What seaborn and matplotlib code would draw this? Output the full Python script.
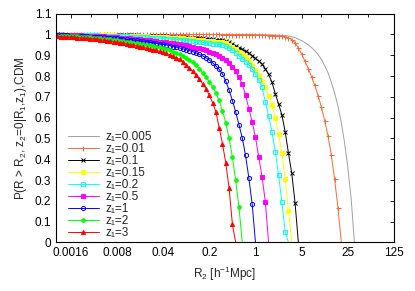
import numpy as np
import pandas as pd
import seaborn as sns
import matplotlib
matplotlib.use("Agg")
import matplotlib.pyplot as plt
from matplotlib.ticker import FixedLocator, FormatStrFormatter

# R2 grid [h^-1 Mpc], shared by all curves (0.05 dex steps)
r2 = [
    0.00100, 0.00112, 0.00126, 0.00141, 0.00158, 0.00178, 0.00200, 0.00224, 0.00251, 0.00282,
    0.00316, 0.00355, 0.00398, 0.00447, 0.00501, 0.00562, 0.00631, 0.00708, 0.00794, 0.00891,
    0.0100, 0.0112, 0.0126, 0.0141, 0.0158, 0.0178, 0.0200, 0.0224, 0.0251, 0.0282,
    0.0316, 0.0355, 0.0398, 0.0447, 0.0501, 0.0562, 0.0631, 0.0708, 0.0794, 0.0891,
    0.100, 0.112, 0.126, 0.141, 0.158, 0.178, 0.200, 0.224, 0.251, 0.282,
    0.316, 0.355, 0.398, 0.447, 0.501, 0.562, 0.631, 0.708, 0.794, 0.891,
    1.00, 1.12, 1.26, 1.41, 1.58, 1.78, 2.00, 2.24, 2.51, 2.82,
    3.16, 3.55, 3.98, 4.47, 5.01, 5.62, 6.31, 7.08, 7.94, 8.91,
    10.0, 11.2, 12.6, 14.1, 15.8, 17.8, 20.0, 22.4, 25.1, 28.2,
    31.6,
]

# P(R > R2) for each z1
p_z0005 = [
    1.0, 1.0, 1.0, 1.0, 1.0, 1.0, 1.0, 1.0, 1.0, 1.0,
    1.0, 1.0, 1.0, 1.0, 1.0, 1.0, 1.0, 1.0, 1.0, 1.0,
    1.0, 1.0, 1.0, 1.0, 1.0, 1.0, 1.0, 1.0, 1.0, 1.0,
    1.0, 1.0, 1.0, 1.0, 1.0, 1.0, 1.0, 1.0, 1.0, 1.0,
    1.0, 1.0, 1.0, 1.0, 1.0, 1.0, 1.0, 1.0, 1.0, 1.0,
    1.0, 1.0, 1.0, 1.0, 1.0, 1.0, 1.0, 1.0, 1.0, 1.0,
    .999, .999, .999, .998, .998, .998, .997, .997, .996, .995,
    .993, .989, .985, .978, .970, .961, .950, .937, .922, .903,
    .880, .850, .815, .770, .720, .655, .575, .480, .360, .210,
    0.0,
]
p_z001 = [
    1.0, 1.0, 1.0, 1.0, 1.0, 1.0, 1.0, 1.0, 1.0, 1.0,
    1.0, 1.0, 1.0, 1.0, 1.0, 1.0, 1.0, 1.0, 1.0, 1.0,
    1.0, 1.0, 1.0, 1.0, 1.0, 1.0, 1.0, 1.0, 1.0, 1.0,
    1.0, 1.0, 1.0, 1.0, 1.0, 1.0, 1.0, 1.0, 1.0, 1.0,
    1.0, 1.0, 1.0, 1.0, 1.0, 1.0, 1.0, 1.0, 1.0, 1.0,
    .999, .999, .999, .999, .999, .999, .998, .998, .998, .998,
    .997, .997, .996, .996, .995, .995, .994, .993, .992, .989,
    .985, .975, .960, .935, .905, .872, .835, .797, .755, .705,
    .650, .585, .510, .420, .305, .165, 0.0,
]
p_z01 = [
    1.0, 1.0, .999, .999, .999, .999, .999, .999, .999, .999,
    .999, .999, .998, .998, .998, .998, .998, .998, .997, .997,
    .997, .997, .996, .996, .996, .995, .995, .994, .994, .993,
    .993, .992, .992, .991, .990, .990, .989, .988, .987, .986,
    .985, .984, .983, .982, .981, .980, .978, .977, .975, .974,
    .972, .967, .962, .954, .945, .937, .928, .919, .910, .898,
    .885, .872, .857, .835, .808, .770, .715, .665, .615, .532,
    .430, .332, .190, 0.0,
]
p_z015 = [
    .999, .999, .999, .999, .999, .998, .998, .998, .998, .998,
    .998, .997, .997, .997, .997, .996, .996, .996, .995, .995,
    .995, .994, .994, .993, .993, .992, .991, .991, .990, .990,
    .989, .988, .987, .986, .985, .984, .983, .982, .981, .980,
    .978, .977, .975, .974, .972, .971, .969, .967, .966, .964,
    .962, .957, .950, .941, .930, .918, .905, .890, .873, .853,
    .830, .805, .777, .745, .705, .660, .597, .522, .432, .305,
    .150, 0.0,
]
p_z02 = [
    .999, .999, .999, .998, .998, .998, .998, .997, .997, .997,
    .996, .996, .996, .995, .995, .995, .994, .994, .993, .993,
    .992, .991, .990, .990, .989, .988, .987, .986, .985, .984,
    .983, .982, .981, .980, .978, .977, .976, .975, .973, .972,
    .970, .968, .966, .964, .962, .960, .958, .956, .954, .952,
    .950, .943, .935, .925, .912, .898, .884, .870, .855, .835,
    .810, .780, .745, .675, .610, .530, .435, .325, .195, .050,
    0.0,
]
p_z05 = [
    .998, .998, .998, .997, .997, .997, .996, .996, .995, .995,
    .994, .994, .993, .992, .991, .990, .989, .988, .987, .985,
    .984, .983, .981, .980, .978, .977, .975, .974, .972, .970,
    .968, .966, .964, .962, .960, .958, .955, .953, .950, .948,
    .945, .941, .937, .933, .928, .923, .917, .911, .904, .896,
    .887, .876, .863, .845, .823, .795, .760, .708, .643, .580,
    .505, .412, .315, .195, 0.0,
]
p_z1 = [
    .997, .997, .996, .996, .995, .994, .994, .993, .992, .991,
    .990, .989, .988, .987, .986, .985, .984, .982, .981, .979,
    .978, .976, .975, .973, .972, .970, .968, .966, .963, .961,
    .958, .955, .952, .949, .946, .942, .939, .935, .931, .927,
    .922, .917, .911, .904, .897, .888, .877, .864, .849, .832,
    .810, .775, .733, .682, .628, .566, .502, .418, .310, .185,
    0.0,
]
p_z2 = [
    .995, .995, .994, .994, .993, .992, .991, .990, .989, .988,
    .987, .985, .984, .982, .980, .978, .976, .974, .972, .970,
    .968, .966, .963, .961, .958, .956, .953, .950, .948, .945,
    .942, .938, .934, .929, .924, .918, .912, .905, .897, .888,
    .879, .866, .851, .834, .815, .795, .773, .748, .718, .683,
    .632, .575, .500, .412, .298, .170, 0.0,
]
p_z3 = [
    .991, .990, .989, .988, .987, .986, .985, .983, .982, .981,
    .980, .978, .976, .974, .972, .970, .967, .965, .962, .960,
    .957, .954, .951, .948, .945, .941, .938, .934, .930, .927,
    .924, .919, .914, .909, .903, .896, .889, .880, .869, .855,
    .838, .823, .805, .785, .764, .740, .708, .672, .628, .552,
    .475, .382, .262, .088, 0.0,
]

labels = ["z\u2081=0.005", "z\u2081=0.01", "z\u2081=0.1", "z\u2081=0.15", "z\u2081=0.2",
          "z\u2081=0.5", "z\u2081=1", "z\u2081=2", "z\u2081=3"]
series = [p_z0005, p_z001, p_z01, p_z015, p_z02, p_z05, p_z1, p_z2, p_z3]
colors = ["#a0a0a0", "#ff6633", "#000000", "#ffff00", "#00ffff",
          "#ff00ff", "#0000ff", "#00ff00", "#ff0000"]
markers = [None, "+", "x", "s", "s", "s", "o", "o", "^"]
filled = [True, True, True, True, False, True, False, True, True]
msizes = [0, 3.6, 3.0, 2.4, 3.0, 2.7, 3.0, 2.6, 3.0]

x_major = [0.0016, 0.008, 0.04, 0.2, 1, 5, 25, 125]
x_minor = [0.0032, 0.016, 0.08, 0.4, 2, 10, 50]

sns.set_theme(style="white")
plt.rcParams["font.family"] = ["Liberation Sans", "DejaVu Sans"]
plt.rcParams["mathtext.default"] = "regular"
plt.rcParams["xtick.direction"] = "in"
plt.rcParams["ytick.direction"] = "in"

fig, ax = plt.subplots(figsize=(4.15, 2.91), dpi=100)
fig.subplots_adjust(left=0.135, right=0.949, bottom=0.167, top=0.953)

for lab, p, c, m, f, ms in zip(labels, series, colors, markers, filled, msizes):
    df = pd.DataFrame({"R2": r2[:len(p)], "P": p})
    kw = dict(color=c, linewidth=0.7, label=lab)
    if m is not None:
        kw.update(marker=m, markersize=ms, markeredgewidth=0.7,
                  markeredgecolor=c, markerfacecolor=c if f else "none",
                  markevery=slice(0, len(p) - 1))
    sns.lineplot(data=df, x="R2", y="P", ax=ax, **kw)

ax.set_xscale("log")
ax.set_xlim(0.00095, 125)
ax.set_ylim(0, 1.1)
ax.xaxis.set_major_locator(FixedLocator(x_major))
ax.xaxis.set_minor_locator(FixedLocator(x_minor))
ax.xaxis.set_major_formatter(FormatStrFormatter("%g"))
ax.xaxis.set_minor_formatter(plt.NullFormatter())
ax.set_yticks(np.arange(0, 1.11, 0.1))
ax.yaxis.set_major_formatter(FormatStrFormatter("%g"))
ax.tick_params(which="both", top=True, right=True, labelsize=8.5, colors="black", pad=3.5)
ax.tick_params(which="major", length=3, width=0.6)
ax.tick_params(which="minor", length=1.8, width=0.6)
for s in ax.spines.values():
    s.set_color("black")
    s.set_linewidth(0.8)

ax.set_xlabel("R$_2$ [h$^{-1}$Mpc]", fontsize=8.5, labelpad=4)
ax.set_ylabel("P(R > R$_2$, z$_2$=0|R$_1$,z$_1$),CDM", fontsize=8.5, labelpad=4)

ax.legend(loc="lower left", bbox_to_anchor=(0.035, 0.015), frameon=False,
          fontsize=8.5, handlelength=2.6, handletextpad=0.55, labelspacing=0.0,
          borderpad=0, borderaxespad=0)

plt.savefig("out.png", dpi=100)
